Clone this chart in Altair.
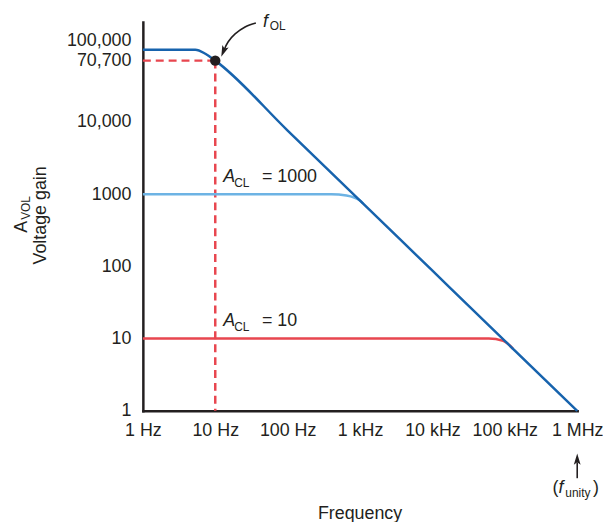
import altair as alt
import pandas as pd

FONT = "Liberation Sans"
INK = "#231f20"
DARK_BLUE = "#1763ad"
LIGHT_BLUE = "#6db3e4"
RED = "#e8464f"

# ---- axis ticks -------------------------------------------------------------
x_tick_values = [1, 10, 100, 1000, 10000, 100000, 1000000]
x_tick_labels = ["1 Hz", "10 Hz", "100 Hz", "1 kHz", "10 kHz", "100 kHz", "1 MHz"]
y_tick_values = [1, 10, 100, 1000, 10000, 70700, 100000]

# ---- curves -----------------------------------------------------------------
ol_freq = [1, 5.3, 7.3, 10, 100, 1000, 10000, 100000, 1000000]
ol_gain = [100000, 100000, 88000, 70700, 7600, 815, 87, 9.3, 1]

cl1000_freq = [1, 400, 650, 1000, 1100]
cl1000_gain = [1000, 1000, 960, 815, 745]

cl10_freq = [1, 60000, 95000, 130000]
cl10_gain = [10, 10, 9.3, 7.2]

# f_OL point and its dashed guides
fol_freq = [10]
fol_gain = [70700]
guide_f = [1, 10]
guide_f2 = [10, 10]
guide_g = [70700, 70700]
guide_g2 = [70700, 1]

# curved annotation arrow toward f_OL
arrow_f = [36.4, 25.8, 18.8, 15.1, 13.3]
arrow_g = [235000, 207000, 166000, 129000, 100000]
arrow_tip_f = [12.1]
arrow_tip_g = [80200]

# annotation anchors
fol_label_f, fol_label_g = [45.5], [207000]
acl1000_f, acl1000_g = [12.9], [1490]
acl10_f, acl10_g = [12.9], [14.7]
unity_f = [1000000]

# ---- scales / axes ------------------------------------------------------------
xs = alt.Scale(type="log", domain=[1, 1000000], nice=False)
ys = alt.Scale(type="log", domain=[1, 242000], nice=False)

x_label_expr = "[" + ",".join("'%s'" % s for s in x_tick_labels) + "][indexof([" + \
    ",".join(str(v) for v in x_tick_values) + "], datum.value)]"

x_axis = alt.Axis(values=x_tick_values, labelExpr=x_label_expr, ticks=False, grid=False,
                  domainColor=INK, domainWidth=2.5, domainCap="square",
                  labelFont=FONT, labelFontSize=18, labelColor=INK, labelPadding=11,
                  labelFlush=False, labelOverlap=False, labelBound=False, title=None)
y_axis = alt.Axis(values=y_tick_values,
                  labelExpr="datum.value >= 10000 ? format(datum.value, ',') : format(datum.value, 'd')",
                  ticks=False, grid=False, domainColor=INK, domainWidth=2.5, domainCap="square",
                  labelFont=FONT, labelFontSize=18, labelColor=INK, labelPadding=12,
                  labelFlush=False, labelOverlap=False, labelBound=False,
                  labelOffset={"condition": {"test": "datum.value == 100000", "value": -9}, "value": 0},
                  title=None)


def X(field="f"):
    return alt.X(field, type="quantitative", scale=xs, axis=x_axis)


def Y(field="g"):
    return alt.Y(field, type="quantitative", scale=ys, axis=y_axis)


def line(freq, gain, color, **kw):
    df = pd.DataFrame({"f": freq, "g": gain})
    return alt.Chart(df).mark_line(color=color, strokeWidth=2.5, interpolate="monotone", **kw).encode(
        x=X(), y=Y())


# dashed guides
guides = alt.Chart(pd.DataFrame({"f": guide_f, "f2": guide_f2, "g": guide_g, "g2": guide_g2})).mark_rule(
    color=RED, strokeWidth=2.5, strokeDash=[8, 5]).encode(x=X(), x2="f2", y=Y(), y2="g2")

cl1000 = line(cl1000_freq, cl1000_gain, LIGHT_BLUE)
cl10 = line(cl10_freq, cl10_gain, RED)
ol = line(ol_freq, ol_gain, DARK_BLUE)

dot = alt.Chart(pd.DataFrame({"f": fol_freq, "g": fol_gain})).mark_point(
    filled=True, color=INK, size=110, opacity=1).encode(x=X(), y=Y())

arrow = alt.Chart(pd.DataFrame({"f": arrow_f, "g": arrow_g, "i": list(range(len(arrow_f)))})).mark_line(
    color=INK, strokeWidth=1.6, interpolate="cardinal").encode(x=X(), y=Y(), order="i:Q")

HEAD_DOWN = "M0,0L-0.6,-2L0,-1.55L0.6,-2Z"
HEAD_UP = "M0,0L-0.6,2L0,1.55L0.6,2Z"

arrow_head = alt.Chart(pd.DataFrame({"f": arrow_tip_f, "g": arrow_tip_g})).mark_point(
    shape=HEAD_DOWN, filled=True, color=INK, size=130, opacity=1, angle=22).encode(x=X(), y=Y())


def text(freq, gain, txt, **kw):
    df = pd.DataFrame({"f": freq, "g": gain, "t": [txt] * len(freq)})
    base = dict(font=FONT, fontSize=18, color=INK, align="left", baseline="alphabetic")
    base.update(kw)
    return alt.Chart(df).mark_text(**base).encode(x=X(), y=Y(), text="t:N")


labels = [
    text(fol_label_f, fol_label_g, "f", fontStyle="italic"),
    text(fol_label_f, fol_label_g, "OL", fontSize=12, dx=7, dy=3),
    text(acl1000_f, acl1000_g, "A", fontStyle="italic"),
    text(acl1000_f, acl1000_g, "CL", fontSize=12, dx=11, dy=5),
    text(acl1000_f, acl1000_g, "= 1000", dx=39),
    text(acl10_f, acl10_g, "A", fontStyle="italic"),
    text(acl10_f, acl10_g, "CL", fontSize=12, dx=11, dy=5),
    text(acl10_f, acl10_g, "= 10", dx=39),
]

# f_unity annotation under the x axis
unity_df = pd.DataFrame({"f": unity_f})


def unity_text(txt, **kw):
    base = dict(font=FONT, fontSize=18, color=INK, align="left", baseline="alphabetic")
    base.update(kw)
    return alt.Chart(unity_df).mark_text(text=txt, **base).encode(x=X(), y=alt.value(475))


unity = [
    unity_text("(", dx=-25),
    unity_text("f", dx=-19, fontStyle="italic"),
    unity_text("unity", dx=-12, dy=4, fontSize=12),
    unity_text(")", dx=16),
    alt.Chart(unity_df).mark_rule(color=INK, strokeWidth=1.6).encode(
        x=X(), y=alt.value(460), y2=alt.value(444)),
    alt.Chart(unity_df).mark_point(shape=HEAD_UP, filled=True, color=INK, size=130, opacity=1).encode(
        x=X(), y=alt.value(435)),
]

# axis titles as text marks
titles = [
    alt.Chart(unity_df).mark_text(text="Frequency", font=FONT, fontSize=18, color=INK,
                                  align="center", baseline="alphabetic").encode(
        x=alt.value(219), y=alt.value(501)),
    alt.Chart(unity_df).mark_text(text="Voltage gain", font=FONT, fontSize=18, color=INK,
                                  align="center", baseline="alphabetic", angle=270).encode(
        x=alt.value(-98), y=alt.value(195)),
    alt.Chart(unity_df).mark_text(text="A", font=FONT, fontSize=18, color=INK,
                                  align="center", baseline="alphabetic", angle=270).encode(
        x=alt.value(-117), y=alt.value(206.5)),
    alt.Chart(unity_df).mark_text(text="VOL", font=FONT, fontSize=12, color=INK,
                                  align="center", baseline="alphabetic", angle=270).encode(
        x=alt.value(-114), y=alt.value(187.5)),
]

chart = alt.layer(guides, cl1000, cl10, ol, dot, arrow, arrow_head, *labels, *unity, *titles).properties(
    width=438, height=392,
    padding={"left": 136, "top": 12, "right": 26, "bottom": 110},
    autosize=alt.AutoSizeParams(type="none"),
).configure_view(stroke=None)

chart.save("out.html", embed_options={"renderer": "svg", "actions": False})
